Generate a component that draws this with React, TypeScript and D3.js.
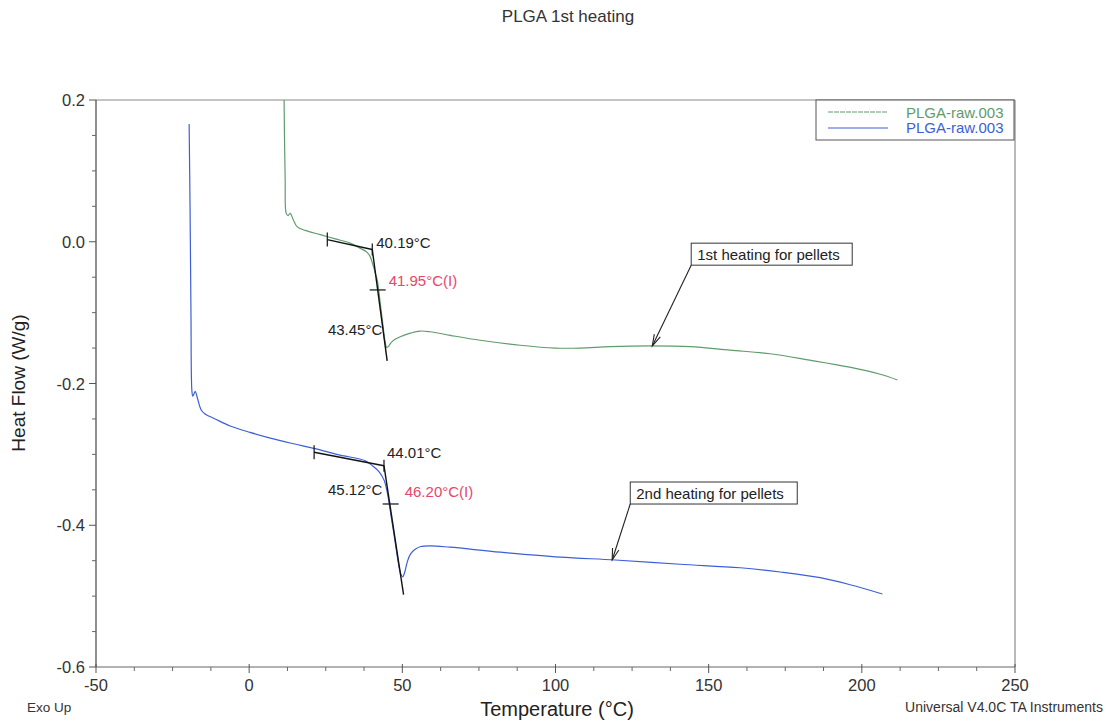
import React from "react";
import * as d3 from "d3";

// ---------- data ----------
const xTicks = [-50, 0, 50, 100, 150, 200, 250];
const yTicks = [0.2, 0.0, -0.2, -0.4, -0.6];
const yTickLabels = ["0.2", "0.0", "-0.2", "-0.4", "-0.6"];

// 1st heating (green) : [temperature °C, heat flow W/g]
const firstHeating: [number, number][] = [
  [11.3, 0.26], [11.4, 0.2], [11.75, 0.087], [12.1, 0.04], [12.7, 0.037], [13.4, 0.04],
  [14.4, 0.031], [15.7, 0.021], [18.3, 0.016], [23.2, 0.01], [28.1, 0.004], [33.0, -0.002],
  [36.2, -0.009], [38.5, -0.015], [39.5, -0.021], [40.5, -0.034], [41.3, -0.046],
  [41.85, -0.055], [42.77, -0.086], [43.68, -0.118], [44.37, -0.141], [44.9, -0.149],
  [45.4, -0.148], [46.2, -0.143], [47.5, -0.138], [49.3, -0.134], [52.6, -0.129],
  [55.8, -0.126], [59.1, -0.127], [65.6, -0.132], [75.4, -0.139], [88.5, -0.146],
  [99.9, -0.15], [108, -0.15], [117.9, -0.148], [130.9, -0.147], [144, -0.148],
  [157, -0.153], [170, -0.158], [183, -0.167], [196, -0.177], [206, -0.187], [211.6, -0.195],
];

// 2nd heating (blue)
const secondHeating: [number, number][] = [
  [-19.6, 0.166], [-19.3, 0.05], [-19.0, -0.1], [-18.7, -0.21], [-18.4, -0.218],
  [-17.6, -0.211], [-17.0, -0.219], [-15.7, -0.237], [-14.4, -0.243], [-11.1, -0.25],
  [-6.2, -0.26], [0.3, -0.269], [6.9, -0.277], [13.4, -0.284], [21.5, -0.292],
  [29.7, -0.301], [37.9, -0.309], [40.5, -0.317], [42.5, -0.325], [44.0, -0.336],
  [45.0, -0.352], [46.3, -0.386], [47.6, -0.422], [48.9, -0.458], [49.6, -0.47],
  [50.1, -0.473], [50.8, -0.466], [51.6, -0.452], [52.6, -0.441], [54.2, -0.434],
  [56.0, -0.43], [59.1, -0.429], [65.6, -0.431], [82, -0.438], [101.5, -0.445],
  [119.5, -0.449], [140.7, -0.455], [160.3, -0.46], [173.4, -0.466], [186.4, -0.474],
  [196.2, -0.484], [206.7, -0.497],
];

// Glass transition analysis (tangent construction)
const tg1Baseline: [number, number][] = [[25.5, 0.003], [40.19, -0.011]];
const tg1Steep: [number, number][] = [[40.19, -0.011], [45.05, -0.168]];
const tg1Inflection: [number, number] = [41.95, -0.068];
const tg2Baseline: [number, number][] = [[21.2, -0.297], [44.01, -0.316]];
const tg2Steep: [number, number][] = [[44.01, -0.316], [50.4, -0.498]];
const tg2Inflection: [number, number] = [46.2, -0.37];

const tgLabels = [
  { t: 40.19, hf: -0.0085, text: "40.19°C", anchor: "start", red: false, dx: 4 },
  { t: 41.95, hf: -0.0625, text: "41.95°C(I)", anchor: "start", red: true, dx: 11 },
  { t: 43.45, hf: -0.132, text: "43.45°C", anchor: "end", red: false, dx: 0 },
  { t: 44.01, hf: -0.3055, text: "44.01°C", anchor: "start", red: false, dx: 3 },
  { t: 45.12, hf: -0.357, text: "45.12°C", anchor: "end", red: false, dx: -5 },
  { t: 46.2, hf: -0.3595, text: "46.20°C(I)", anchor: "start", red: true, dx: 14 },
];

const callouts = [
  { text: "1st heating for pellets", boxT: 144.3, boxHF: -0.002, boxW: 161, tipT: 131.6, tipHF: -0.147 },
  { text: "2nd heating for pellets", boxT: 124.4, boxHF: -0.339, boxW: 167, tipT: 118.5, tipHF: -0.449 },
];

const legendItems = [
  { label: "PLGA-raw.003", color: "#5f9c6c" },
  { label: "PLGA-raw.003", color: "#3d5fd6" },
];

// ---------- chart ----------
const W = 1114;
const H = 721;
const L = 96, R = 1015, T = 100, B = 667;
const FONT = "'Liberation Sans', Arial, Helvetica, sans-serif";

export default function App() {
  const x = d3.scaleLinear().domain([-50, 250]).range([L, R]);
  const y = d3.scaleLinear().domain([-0.6, 0.2]).range([B, T]);
  const line = d3
    .line<[number, number]>()
    .x((d) => x(d[0]))
    .y((d) => y(d[1]))
    .curve(d3.curveCatmullRom.alpha(0.5));
  const straight = d3.line<[number, number]>().x((d) => x(d[0])).y((d) => y(d[1]));

  const xMinor = d3.range(-50, 250.01, 12.5).filter((v) => !xTicks.includes(v));
  const yMinor = d3.range(-0.6, 0.2001, 0.05).filter((v) => !yTicks.some((t) => Math.abs(t - v) < 1e-6));

  const arrowHead = (x1: number, y1: number, x2: number, y2: number) => {
    const a = Math.atan2(y2 - y1, x2 - x1);
    const len = 12, spread = 0.28;
    const p1 = [x2 - len * Math.cos(a - spread), y2 - len * Math.sin(a - spread)];
    const p2 = [x2 - len * Math.cos(a + spread), y2 - len * Math.sin(a + spread)];
    return `M${p1[0]},${p1[1]}L${x2},${y2}L${p2[0]},${p2[1]}`;
  };

  const tickMark = (t: number, hf: number, vertical: boolean, half: number) => {
    const px = x(t), py = y(hf);
    return vertical ? (
      <line x1={px} x2={px} y1={py - half} y2={py + half} stroke="#111" strokeWidth={1.2} />
    ) : (
      <line x1={px - half} x2={px + half} y1={py} y2={py} stroke="#111" strokeWidth={1.2} />
    );
  };

  return (
    <svg
      width={W}
      height={H}
      style={{ position: "absolute", left: 0, top: 0, background: "#fff", fontFamily: FONT }}
    >
      <defs>
        <clipPath id="plotClip">
          <rect x={L} y={T} width={R - L} height={B - T} />
        </clipPath>
      </defs>

      <text x={568} y={22} textAnchor="middle" fontSize={17} fill="#333">
        PLGA 1st heating
      </text>

      {/* frame */}
      <line x1={L} x2={R} y1={T} y2={T} stroke="#8a8a8a" strokeWidth={1.2} />
      <line x1={R} x2={R} y1={T} y2={B} stroke="#8a8a8a" strokeWidth={1.2} />
      <line x1={L} x2={L} y1={T} y2={B} stroke="#444" strokeWidth={1.2} />
      <line x1={L} x2={R} y1={B} y2={B} stroke="#666" strokeWidth={1.2} />

      {/* x ticks */}
      {xTicks.map((v) => (
        <g key={"xt" + v}>
          <line x1={x(v)} x2={x(v)} y1={B - 3} y2={B + 6} stroke="#555" />
          <text x={x(v)} y={B + 24} textAnchor="middle" fontSize={16.5} fill="#333">
            {v}
          </text>
        </g>
      ))}
      {xMinor.map((v) => (
        <line key={"xm" + v} x1={x(v)} x2={x(v)} y1={B} y2={B + 4} stroke="#666" />
      ))}

      {/* y ticks */}
      {yTicks.map((v, i) => (
        <g key={"yt" + v}>
          <line x1={L - 7} x2={L} y1={y(v)} y2={y(v)} stroke="#555" />
          <text x={L - 11} y={y(v) + 6} textAnchor="end" fontSize={16.5} fill="#333">
            {yTickLabels[i]}
          </text>
        </g>
      ))}
      {yMinor.map((v) => (
        <line key={"ym" + v} x1={L - 4} x2={L} y1={y(v)} y2={y(v)} stroke="#666" />
      ))}

      <text
        transform={`translate(25,${383}) rotate(-90)`}
        textAnchor="middle"
        fontSize={19}
        fill="#222"
      >
        Heat Flow (W/g)
      </text>
      <text x={557} y={716} textAnchor="middle" fontSize={20} fill="#222">
        Temperature (°C)
      </text>
      <text x={27} y={712} fontSize={13.5} fill="#333">
        Exo Up
      </text>
      <text x={1103} y={712} textAnchor="end" fontSize={14} fill="#333">
        Universal V4.0C TA Instruments
      </text>

      {/* curves */}
      <g clipPath="url(#plotClip)">
        <path d={line(firstHeating) || ""} fill="none" stroke={legendItems[0].color} strokeWidth={1.2} />
        <path d={line(secondHeating) || ""} fill="none" stroke={legendItems[1].color} strokeWidth={1.2} />
      </g>

      {/* tangent constructions */}
      <g>
        <path d={straight(tg1Baseline) || ""} stroke="#111" strokeWidth={1.4} fill="none" />
        <path d={straight(tg1Steep) || ""} stroke="#111" strokeWidth={1.4} fill="none" />
        {tickMark(tg1Baseline[0][0], tg1Baseline[0][1], true, 7)}
        {tickMark(tg1Steep[0][0], tg1Steep[0][1], true, 6)}
        {tickMark(tg1Inflection[0], tg1Inflection[1], false, 8)}
        <path d={straight(tg2Baseline) || ""} stroke="#111" strokeWidth={1.4} fill="none" />
        <path d={straight(tg2Steep) || ""} stroke="#111" strokeWidth={1.4} fill="none" />
        {tickMark(tg2Baseline[0][0], tg2Baseline[0][1], true, 7)}
        {tickMark(tg2Steep[0][0], tg2Steep[0][1], true, 6)}
        {tickMark(tg2Inflection[0], tg2Inflection[1], false, 8)}
      </g>
      {tgLabels.map((l, i) => (
        <text
          key={"tg" + i}
          x={x(l.t) + l.dx}
          y={y(l.hf)}
          textAnchor={l.anchor as any}
          fontSize={15}
          fill={l.red ? "#e8466a" : "#222"}
        >
          {l.text}
        </text>
      ))}

      {/* callouts */}
      {callouts.map((c, i) => {
        const bx = x(c.boxT);
        const by = y(c.boxHF);
        const tx = x(c.tipT), ty = y(c.tipHF);
        const bh = 22;
        return (
          <g key={"co" + i}>
            <rect x={bx} y={by} width={c.boxW} height={bh} fill="#fff" stroke="#333" strokeWidth={1} />
            <text x={bx + 6} y={by + 16.5} fontSize={15} fill="#222">
              {c.text}
            </text>
            <line x1={bx} y1={by + bh} x2={tx} y2={ty} stroke="#222" strokeWidth={1.1} />
            <path d={arrowHead(bx, by + bh, tx, ty)} stroke="#222" strokeWidth={1.1} fill="none" />
          </g>
        );
      })}

      {/* legend */}
      <rect x={816} y={100} width={198} height={40} fill="#fff" stroke="#555" strokeWidth={1} />
      {legendItems.map((it, i) => (
        <g key={"lg" + i}>
          <line
            x1={828}
            x2={888}
            y1={112 + i * 16}
            y2={112 + i * 16}
            stroke={it.color}
            strokeWidth={1.2}
            strokeDasharray={i === 0 ? "5 1" : undefined}
          />
          <text x={906} y={118 + i * 15} fontSize={15} fill={it.color}>
            {it.label}
          </text>
        </g>
      ))}
    </svg>
  );
}
